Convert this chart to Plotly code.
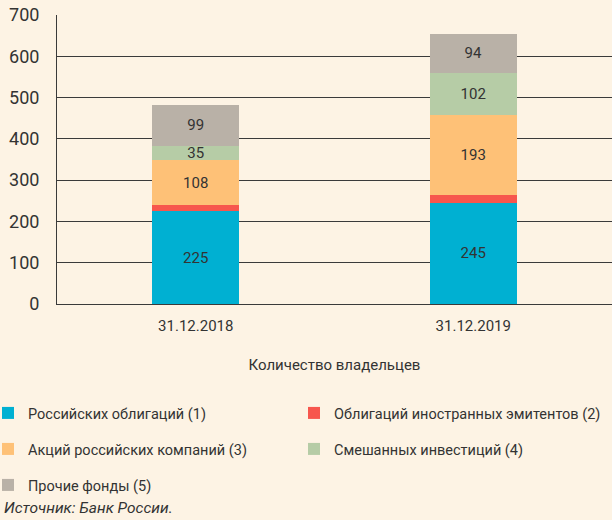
import plotly.graph_objects as go

categories = ["31.12.2018", "31.12.2019"]
series_names = [
    "Российских облигаций (1)",
    "Облигаций иностранных эмитентов (2)",
    "Акций российских компаний (3)",
    "Смешанных инвестиций (4)",
    "Прочие фонды (5)",
]
russian_bonds = [225, 245]
foreign_bonds = [15, 20]
russian_shares = [108, 193]
mixed = [35, 102]
other = [99, 94]
show_labels = [True, False, True, True, True]
colors = ["#00B0D2", "#F7564D", "#FEC177", "#B6CCA6", "#B9B1A7"]

values = [russian_bonds, foreign_bonds, russian_shares, mixed, other]

# legend text anchor positions in pixels (text left x, row center y)
legend_pos = [(30, 413), (336, 413), (30, 449), (336, 449), (30, 485)]

BG = "#FDF3E4"
FONT = "Roboto"
W, H = 612, 520
L, T, B = 57, 15, 216
PW, PH = W - L, H - T - B

fig = go.Figure()
legend_ids = ["legend", "legend2", "legend3", "legend4", "legend5"]
for name, vals, col, lab, lid in zip(series_names, values, colors, show_labels, legend_ids):
    fig.add_trace(go.Bar(
        x=categories, y=vals, name=name,
        marker=dict(color=col, line=dict(width=0)),
        text=[str(v) for v in vals] if lab else None,
        textposition="inside", insidetextanchor="middle", textangle=0,
        constraintext="none",
        textfont=dict(family=FONT, size=15, color="#333333"),
        hoverinfo="skip", legend=lid,
    ))

layout_legends = {}
for lid, (tx, ty) in zip(legend_ids, legend_pos):
    layout_legends[lid] = dict(
        xref="paper", yref="paper",
        x=(tx - 42 - L) / PW, xanchor="left",
        y=(H - B - ty) / PH, yanchor="middle",
        font=dict(family=FONT, size=14.5, color="#333333"),
        bgcolor="rgba(0,0,0,0)", itemclick=False, itemdoubleclick=False,
    )

fig.update_layout(
    barmode="stack",
    bargap=0.686,
    width=W, height=H,
    paper_bgcolor=BG, plot_bgcolor=BG,
    margin=dict(l=L, r=0, t=T, b=B, autoexpand=False),
    font=dict(family=FONT, size=15, color="#333333"),
    uniformtext=dict(mode="show", minsize=10),
    xaxis=dict(
        showgrid=False, showline=True, linecolor="#3a3a3a", linewidth=1,
        tickfont=dict(size=15, color="#333333"), ticks="",
        ticklabelstandoff=8,
        title=dict(text="Количество владельцев", font=dict(size=15, color="#333333"), standoff=25),
    ),
    yaxis=dict(
        range=[0, 700], dtick=100, showgrid=True, gridcolor="#3a3a3a", gridwidth=1,
        showline=True, linecolor="#3a3a3a", linewidth=1,
        tickfont=dict(size=18, color="#333333"), ticks="", zeroline=False,
        ticklabelstandoff=13,
    ),
    showlegend=True,
    **layout_legends,
)
fig.add_annotation(
    text="<i>Источник: Банк России.</i>", xref="paper", yref="paper",
    x=(2 - L) / PW, y=(H - B - 508) / PH, xanchor="left", yanchor="middle",
    showarrow=False, font=dict(size=15.5, color="#333333"),
)
fig.write_html("out.html", post_script="document.body.style.margin='0';",
               config={"displayModeBar": False})
